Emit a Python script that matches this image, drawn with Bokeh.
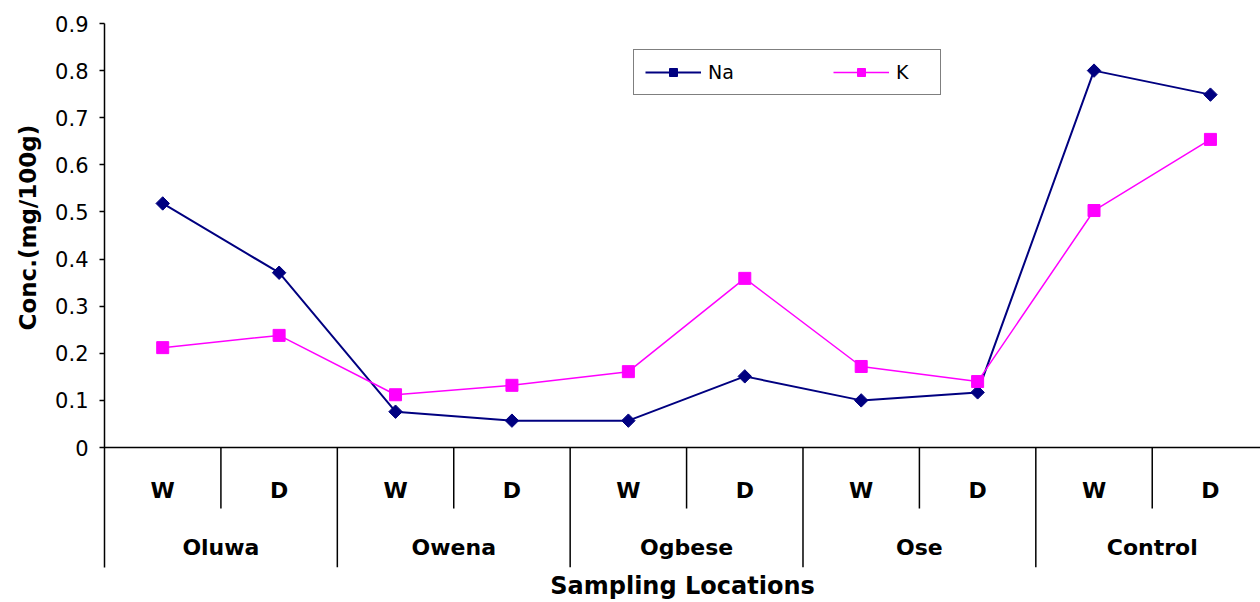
import math

from bokeh.plotting import figure
from bokeh.models import (Range1d, FixedTicker, Legend, LegendItem,
                          ColumnDataSource, Span, Title)
from bokeh.core.properties import value
from bokeh.embed import file_html
from bokeh.resources import INLINE

# Sodium and potassium concentrations per location, wet (W) and dry (D) season
locations = ["Oluwa", "Owena", "Ogbese", "Ose", "Control"]
seasons = ["W", "D"]
na = [0.518, 0.371, 0.076, 0.057, 0.057, 0.151, 0.100, 0.117, 0.800, 0.749]
k = [0.212, 0.238, 0.112, 0.132, 0.161, 0.359, 0.172, 0.140, 0.503, 0.654]
y_ticks = [0, 0.1, 0.2, 0.3, 0.4, 0.5, 0.6, 0.7, 0.8, 0.9]
y_tick_labels = ["0", "0.1", "0.2", "0.3", "0.4", "0.5", "0.6", "0.7", "0.8", "0.9"]

FONT = "DejaVu Sans"
NA_COLOR = "#000080"
K_COLOR = "#FF00FF"

n = len(na)
xs = [i + 0.5 for i in range(n)]
src = ColumnDataSource(dict(x=xs, na=na, k=k))

# the region below zero holds the two-row category axis
y_bottom = -0.2547
season_row = -0.0913
location_row = -0.2123
inner_sep_end = -0.1295

p = figure(width=1260, height=602, output_backend="svg", toolbar_location=None,
           x_range=Range1d(0, 9.93), y_range=Range1d(y_bottom, 0.9),
           x_axis_location=None,
           min_border_left=104, min_border_right=0, min_border_top=23,
           min_border_bottom=35)
p.outline_line_color = None
p.grid.visible = False
p.background_fill_color = "white"
p.border_fill_color = "white"

yax = p.yaxis[0]
yax.ticker = FixedTicker(ticks=y_ticks)
yax.major_label_overrides = {t: lbl for t, lbl in zip(y_ticks, y_tick_labels)}
yax.minor_tick_line_color = None
yax.major_tick_in = 0
yax.major_tick_out = 5
yax.major_tick_line_width = 1.5
yax.axis_line_width = 1.5
yax.axis_line_color = "black"
yax.major_label_standoff = 11
yax.major_label_text_font = FONT
yax.major_label_text_font_size = "21px"
yax.major_label_text_color = "black"

# value-axis title, set beside the 0-0.9 part of the axis
p.add_layout(Title(text="Conc.(mg/100g)", align="left", offset=237, standoff=24,
                   text_font=FONT, text_font_style="bold", text_font_size="23px",
                   text_color="black"), "left")

# baseline of the value axis
p.add_layout(Span(location=0, dimension="width", line_color="black", line_width=1.5))

# separators of the category axis
inner = [2 * g + 1 for g in range(len(locations))]
outer = [2 * g for g in range(1, len(locations) + 1)]
p.segment(x0=inner, y0=[0] * len(inner), x1=inner, y1=[inner_sep_end] * len(inner),
          line_color="black", line_width=1.5)
p.segment(x0=outer, y0=[0] * len(outer), x1=outer, y1=[y_bottom] * len(outer),
          line_color="black", line_width=1.5)

p.text(x=xs, y=[season_row] * n, text=seasons * len(locations),
       text_align="center", text_baseline="middle", text_font=value(FONT),
       text_font_style="bold", text_font_size="22px", text_color="black")
p.text(x=[2 * g + 1 for g in range(len(locations))], y=[location_row] * len(locations),
       text=locations, text_align="center", text_baseline="middle",
       text_font=value(FONT), text_font_style="bold", text_font_size="22px",
       text_color="black")

# series
na_line = p.line("x", "na", source=src, line_color=NA_COLOR, line_width=2)
na_pts = p.scatter("x", "na", source=src, marker="square", size=9.5,
                   angle=math.pi / 4,
                   fill_color=NA_COLOR, line_color=NA_COLOR)
k_line = p.line("x", "k", source=src, line_color=K_COLOR, line_width=1.5)
k_pts = p.scatter("x", "k", source=src, marker="square", size=12,
                  fill_color=K_COLOR, line_color=K_COLOR)

legend = Legend(items=[LegendItem(label="Na", renderers=[na_line, na_pts]),
                       LegendItem(label="K", renderers=[k_line, k_pts])],
                orientation="horizontal", location=(529, 472),
                glyph_width=56, glyph_height=20, label_standoff=7,
                label_width=33, spacing=92, padding=11, margin=0,
                border_line_color="black", border_line_width=1.5,
                label_text_font=FONT, label_text_font_size="19px",
                label_text_color="black", background_fill_alpha=1)
p.add_layout(legend, "center")

p.add_layout(Title(text="Sampling Locations", align="center", standoff=5,
                   text_font=FONT, text_font_style="bold", text_font_size="24px",
                   text_color="black"), "below")

open("out.html", "w").write(file_html(p, INLINE))
